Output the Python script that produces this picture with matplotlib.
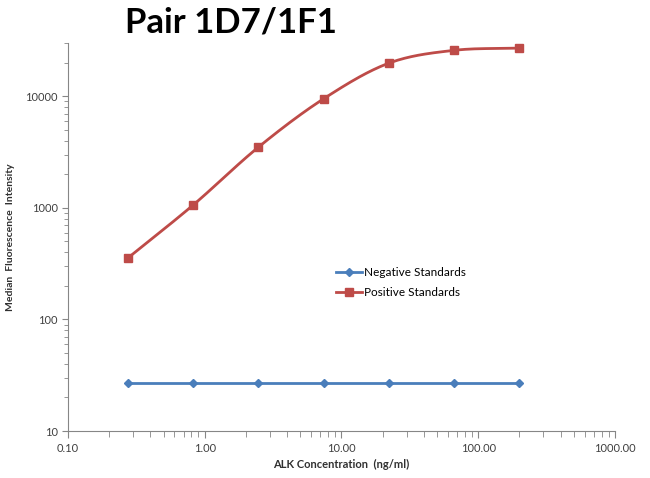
import numpy as np
import matplotlib.pyplot as plt
from matplotlib.ticker import FixedLocator, LogLocator, NullFormatter

plt.rcParams['font.family'] = ['Lato', 'DejaVu Sans']

# ALK concentration (ng/ml), 3-fold dilution series
conc = [0.274, 0.823, 2.47, 7.41, 22.2, 66.7, 200.0]
negative = [27, 27, 27, 27, 27, 27, 27]
positive = [355, 1060, 3500, 9500, 19800, 25800, 27000]

blue = '#4A7EBB'
red = '#BE4B48'
grey = '#868686'


def smooth(x, y, n=30):
    # catmull-rom style smoothing in log space, like excel's smoothed line
    lx, ly = np.log10(x), np.log10(y)
    px = np.concatenate([[2 * lx[0] - lx[1]], lx, [2 * lx[-1] - lx[-2]]])
    py = np.concatenate([[2 * ly[0] - ly[1]], ly, [2 * ly[-1] - ly[-2]]])
    ox, oy = [], []
    for i in range(1, len(px) - 2):
        t = np.linspace(0, 1, n)
        for p, out in ((px, ox), (py, oy)):
            p0, p1, p2, p3 = p[i - 1], p[i], p[i + 1], p[i + 2]
            out.extend(0.5 * (2 * p1 + (-p0 + p2) * t
                              + (2 * p0 - 5 * p1 + 4 * p2 - p3) * t ** 2
                              + (-p0 + 3 * p1 - 3 * p2 + p3) * t ** 3))
    return 10 ** np.array(ox), 10 ** np.array(oy)


fig = plt.figure(figsize=(6.5, 4.78), dpi=100)
ax = fig.add_axes([0.1046, 0.0983, 0.8415, 0.8117])

ax.plot(conc, negative, color=blue, lw=2, marker='D', ms=4, label='Negative Standards')
sx, sy = smooth(conc, positive)
ax.plot(sx, sy, color=red, lw=2)
ax.plot(conc, positive, color=red, lw=0, marker='s', ms=5.5)
ax.plot([], [], color=red, lw=2, marker='s', ms=5.5, label='Positive Standards')

ax.set_xscale('log')
ax.set_yscale('log')
ax.set_xlim(0.1, 1000)
ax.set_ylim(10, 30000)

ax.xaxis.set_major_locator(FixedLocator([0.1, 1, 10, 100, 1000]))
ax.set_xticklabels(['0.10', '1.00', '10.00', '100.00', '1000.00'])
ax.xaxis.set_minor_locator(LogLocator(base=10, subs=np.arange(2, 10)))
ax.xaxis.set_minor_formatter(NullFormatter())
ax.yaxis.set_major_locator(FixedLocator([10, 100, 1000, 10000]))
ax.set_yticklabels(['10', '100', '1000', '10000'])
ax.yaxis.set_minor_locator(LogLocator(base=10, subs=np.arange(2, 10)))
ax.yaxis.set_minor_formatter(NullFormatter())

for s in ['top', 'right']:
    ax.spines[s].set_visible(False)
for s in ['left', 'bottom']:
    ax.spines[s].set_color(grey)
ax.tick_params(which='both', colors=grey, labelcolor='#404040', labelsize=8)
ax.tick_params(axis='x', which='major', length=5, direction='out')
ax.tick_params(axis='x', which='minor', length=4, direction='out')
ax.tick_params(axis='y', which='major', length=4, direction='out')
ax.tick_params(axis='y', which='minor', length=3, direction='out')

ax.set_xlabel('ALK Concentration  (ng/ml)', fontsize=8, fontweight='bold', color='#303030')
ax.set_ylabel('Median  Fluorescence  Intensity', fontsize=7.5, fontweight='bold', color='#303030')
ax.yaxis.set_label_coords(-0.097, 0.5)

fig.text(0.355, 0.953, 'Pair 1D7/1F1', fontsize=25, fontweight='bold', ha='center', va='center')

ax.legend(loc='upper left', bbox_to_anchor=(0.47, 0.45), frameon=False, fontsize=8.5,
          handlelength=2.2, handletextpad=0.2, labelspacing=0.8)

fig.savefig('out.png', dpi=100)
